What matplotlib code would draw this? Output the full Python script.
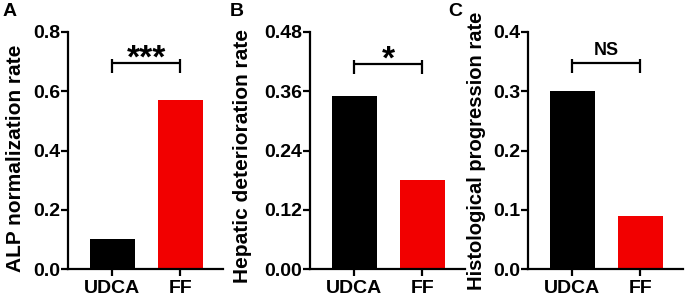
import matplotlib
matplotlib.use("Agg")
import matplotlib.pyplot as plt
from matplotlib.ticker import FormatStrFormatter

plt.rcParams['font.family'] = ['Liberation Sans', 'DejaVu Sans']
plt.rcParams['font.weight'] = 'bold'

categories = ["UDCA", "FF"]
colors = ["#000000", "#f20000"]

panel_letters = ["A", "B", "C"]
ylabels = ["ALP normalization rate", "Hepatic deterioration rate", "Histological progression rate"]
values_A = [0.10, 0.57]
values_B = [0.35, 0.18]
values_C = [0.30, 0.09]
ymax = [0.8, 0.48, 0.4]
ysteps = [0.2, 0.12, 0.1]
yfmt = ["%.1f", "%.2f", "%.1f"]
sig_labels = ["***", "*", "NS"]
sig_heights = [0.694, 0.415, 0.347]

fig = plt.figure(figsize=(6.92, 2.97), dpi=100)
W, H = 692, 297
lefts = [68, 310, 528]
ax_w = 155
ax_bottom = 269
ax_top = 32
label_x = [-0.28, -0.372, -0.271]
label_y = [0.465, 0.475, 0.50]
label_size = [15, 15, 14.5]
letter_x = [3, 230, 448]

all_values = [values_A, values_B, values_C]
for i in range(3):
    ax = fig.add_axes([lefts[i] / W, (H - ax_bottom) / H, ax_w / W, (ax_bottom - ax_top) / H])
    x = list(range(len(categories)))
    ax.bar(x, all_values[i], width=0.66, color=colors)
    ax.set_xlim(-0.65, 1.63)
    ax.set_ylim(0, ymax[i])
    n = int(round(ymax[i] / ysteps[i]))
    ax.set_yticks([k * ysteps[i] for k in range(n + 1)])
    ax.yaxis.set_major_formatter(FormatStrFormatter(yfmt[i]))
    ax.set_xticks(x)
    ax.set_xticklabels(categories)
    for sp in ['top', 'right']:
        ax.spines[sp].set_visible(False)
    for sp in ['left', 'bottom']:
        ax.spines[sp].set_linewidth(1.6)
    ax.tick_params(axis='both', direction='out', length=5, width=1.6, labelsize=14)
    ax.tick_params(axis='y', pad=0.5)
    ax.tick_params(axis='x', pad=3)
    for lab in ax.get_xticklabels() + ax.get_yticklabels():
        lab.set_fontweight('bold')
    ax.set_ylabel(ylabels[i], fontsize=label_size[i], fontweight='bold')
    ax.yaxis.set_label_coords(label_x[i], label_y[i])
    # significance bracket
    h = sig_heights[i]
    px = ymax[i] / (ax_bottom - ax_top)
    ax.plot([0, 1], [h, h], color='black', lw=1.6, clip_on=False, solid_capstyle='butt')
    for xe in (0, 1):
        ax.plot([xe, xe], [h + 4 * px, h - 10 * px], color='black', lw=1.6, clip_on=False, solid_capstyle='butt')
    if sig_labels[i] == "NS":
        ax.text(0.5, h + 4.5 * px, sig_labels[i], ha='center', va='bottom', fontsize=13, fontweight='bold')
    else:
        ax.text(0.5, h - 11 * px, sig_labels[i], ha='center', va='bottom', fontsize=24, fontweight='bold')
    fig.text(letter_x[i] / W, 1 - 11.5 / H, panel_letters[i],
             fontsize=14, fontweight='bold', ha='left', va='center')

fig.savefig("out.png", dpi=100)
